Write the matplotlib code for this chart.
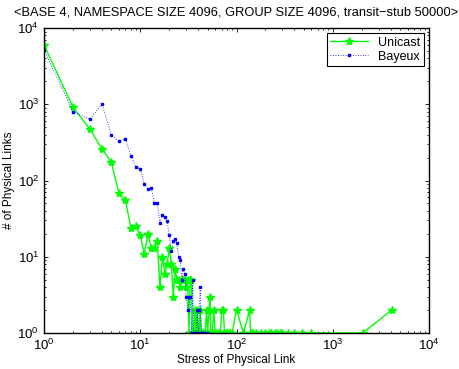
import matplotlib
matplotlib.use("Agg")
import matplotlib.pyplot as plt

plt.rcParams["font.family"] = ["Liberation Sans", "DejaVu Sans"]
plt.rcParams["mathtext.default"] = "regular"

# Stress of physical link (x) vs number of physical links (y)
unicast_stress = [
    1, 2, 3, 4, 5, 6, 7, 8, 9, 10, 11, 12, 13, 14, 15, 16, 17, 18, 19, 20,
    21, 22, 23, 24, 25, 26, 27, 28, 29, 30, 31, 32, 33, 34, 35, 36, 37, 38,
    39, 40, 41, 42, 43, 45, 47, 49, 50, 52, 53, 54, 56, 58, 60, 62, 65, 68,
    70, 73, 75, 78, 80, 83, 86, 90, 100, 118, 137, 140, 150, 160, 180, 200,
    215, 230, 250, 265, 280, 300, 340, 400, 480, 600, 2048, 4096,
]
unicast_links = [
    6000, 910, 470, 260, 173, 68, 55, 24, 25, 19, 11, 20, 13, 13, 16, 4, 10,
    6, 8, 13, 8, 3, 7, 5, 5, 4, 5, 5, 5, 4, 5, 1, 5, 5, 1, 1, 2, 1, 2, 1, 1,
    2, 1, 1, 1, 2, 1, 2, 3, 1, 1, 2, 1, 1, 1, 1, 2, 2, 1, 1, 1, 1, 1, 1, 2,
    1, 2, 1, 1, 1, 1, 1, 1, 1, 1, 1, 1, 1, 1, 1, 1, 1, 1, 2,
]

bayeux_stress = [
    1, 2, 3, 4, 5, 6, 7, 8, 9, 10, 11, 12, 13, 14, 15, 16, 17, 18, 19, 20,
    21, 22, 23, 24, 25, 26, 27, 28, 29, 30, 31, 32, 33, 34, 35, 36, 37, 38,
    39, 40, 41, 42, 43, 44, 45, 46, 48, 50,
]
bayeux_links = [
    5150, 800, 635, 1010, 395, 330, 350, 210, 152, 143, 91, 77, 79, 51, 51,
    28, 35, 33, 29, 19, 12, 16, 17, 15, 10, 9, 5, 7, 6, 3, 2, 3, 3, 1, 5, 1,
    1, 1, 2, 1, 2, 4, 1, 1, 1, 1, 1, 1,
]

figure = plt.figure(figsize=(4.59, 3.69), dpi=100)
axes = figure.add_axes([0.096, 0.0976, 0.8386, 0.8264])

axes.loglog(unicast_stress, unicast_links, color=(0, 1, 0), linestyle="-",
            linewidth=1.0, marker="*", markersize=6, label="Unicast")
axes.loglog(bayeux_stress, bayeux_links, color=(0, 0, 1),
            linestyle=(0, (1, 2)), linewidth=0.6, marker="s", markersize=2,
            label="Bayeux")

axes.set_xlim(1, 1e4)
axes.set_ylim(1, 1e4)
axes.set_xlabel("Stress of Physical Link", fontsize=8.5, labelpad=1)
axes.set_ylabel("# of Physical Links", fontsize=8.5, labelpad=2)
axes.set_title("<BASE 4, NAMESPACE SIZE 4096, GROUP SIZE 4096, transit\u2212stub 50000>",
               fontsize=9.3, pad=9)

axes.tick_params(which="both", direction="in", top=True, right=True,
                 labelsize=9.5, width=0.6)
axes.tick_params(which="major", length=3)
axes.tick_params(which="minor", length=1.5)
for spine in axes.spines.values():
    spine.set_linewidth(1.0)

legend = axes.legend(loc="upper right", fontsize=9, fancybox=False,
                     edgecolor="black", framealpha=1, borderaxespad=0.4,
                     handlelength=3.0, borderpad=0.3, labelspacing=0.15)
legend.get_frame().set_linewidth(0.8)

figure.savefig("out.png", dpi=100)
